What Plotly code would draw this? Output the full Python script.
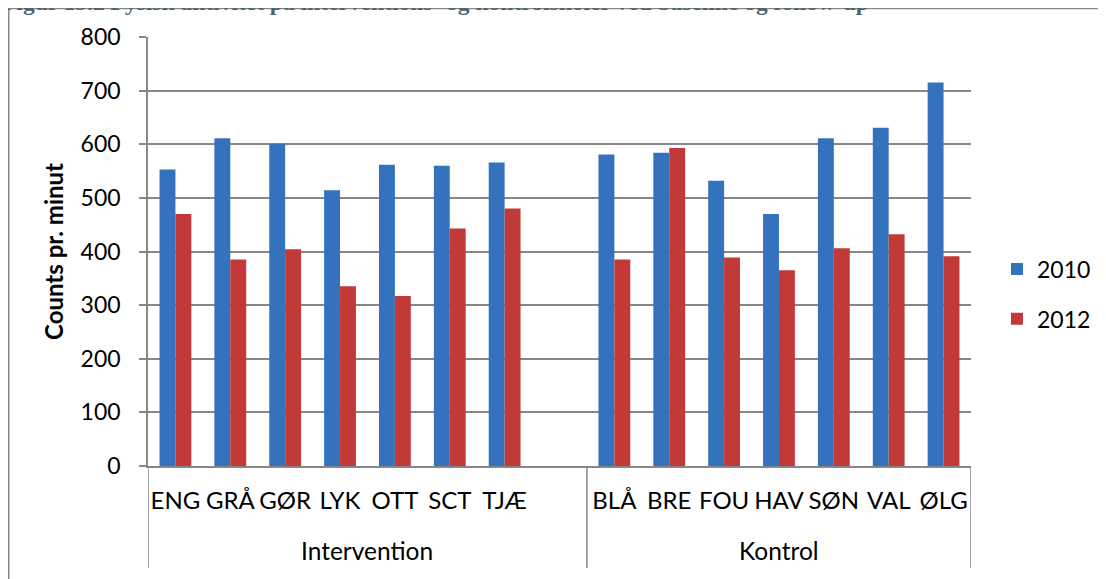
import plotly.graph_objects as go

# skoler, grupperet i intervention / kontrol (tom plads mellem grupperne)
skoler = ["ENG", "GRÅ", "GØR", "LYK", "OTT", "SCT", "TJÆ", " ",
          "BLÅ", "BRE", "FOU", "HAV", "SØN", "VAL", "ØLG"]
grupper = ["Intervention", "Kontrol"]
v2010 = [553, 611, 601, 514, 562, 560, 566, None,
         581, 584, 532, 470, 611, 631, 715]
v2012 = [470, 385, 404, 335, 317, 443, 480, None,
         385, 593, 389, 365, 406, 432, 391]

font = "Lato, 'Open Sans', sans-serif"
grid = "#878787"

fig = go.Figure()
fig.add_trace(go.Bar(x=skoler, y=v2010, name="2010", legendgroup="a",
                     marker=dict(color="#3572be", line=dict(width=0))))
fig.add_trace(go.Bar(x=skoler, y=v2012, name="2012", legendgroup="b",
                     marker=dict(color="#c13a38", line=dict(width=0))))

# siden har 8px kant, så figuren gøres 8px mindre end vinduet
W, H = 1098, 571
fig.update_layout(
    width=W, height=H,
    margin=dict(l=140, r=135, t=29, b=113, autoexpand=False),
    paper_bgcolor="white", plot_bgcolor="white",
    bargap=0.42, bargroupgap=0,
    font=dict(family=font, size=23, color="black"),
    showlegend=True,
    legend=dict(xref="container", yref="container", x=989 / W, y=1 - 286 / H,
                xanchor="left", yanchor="middle",
                traceorder="grouped", tracegroupgap=17,
                font=dict(size=23), bgcolor="rgba(0,0,0,0)"),
)

fig.update_yaxes(range=[0, 800], dtick=100, showgrid=True, gridcolor=grid,
                 gridwidth=1.5, showline=True, linecolor=grid, linewidth=1.5,
                 ticks="outside", ticklen=7, tickcolor=grid, tickwidth=1.5,
                 ticklabelstandoff=14, zeroline=False, automargin=False,
                 tickfont=dict(size=23),
                 title=dict(text="<b>Counts pr. minut</b>", font=dict(size=24),
                            standoff=10))

fig.update_xaxes(type="category", showline=True, linecolor=grid, linewidth=1.5,
                 ticks="", ticklabelstandoff=12, range=[-0.5, 14.5],
                 automargin=False, tickfont=dict(size=24))

# gruppe-etiketter og skillelinjer under x-aksen
fig.add_annotation(x=3.5, y=-0.198, xref="x", yref="paper", text=grupper[0],
                   showarrow=False, yanchor="middle", font=dict(size=24.5))
fig.add_annotation(x=11, y=-0.198, xref="x", yref="paper", text=grupper[1],
                   showarrow=False, yanchor="middle", font=dict(size=24.5))
for xv in [-0.5, 7.5, 14.5]:
    fig.add_shape(type="line", xref="x", yref="paper", x0=xv, x1=xv,
                  y0=0, y1=-0.238, line=dict(color=grid, width=1.5))

# ramme om diagrammet
fig.add_shape(type="line", xref="paper", yref="paper", x0=-0.1695, x1=1.2,
              y0=1.067, y1=1.067, line=dict(color=grid, width=2))
fig.add_shape(type="line", xref="paper", yref="paper", x0=-0.1695, x1=-0.1695,
              y0=1.067, y1=-0.3, line=dict(color=grid, width=2))

# figurtekst (delvist skåret af i toppen)
fig.add_annotation(x=-148 / 823, y=1, xref="paper", yref="paper", xanchor="left",
                   yanchor="middle", yshift=35, showarrow=False,
                   text="<b>Figur 13.2 Fysisk aktivitet på interventions- og kontrolskoler ved baseline og follow-up</b>",
                   font=dict(family="Liberation Serif, serif", size=23.5, color="#4a656e"))

fig.write_html("out.html")
